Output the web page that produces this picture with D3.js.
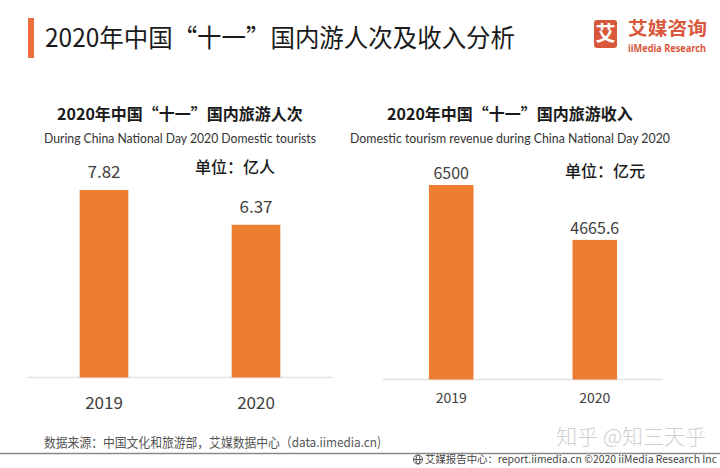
<!DOCTYPE html>
<html><head><meta charset="utf-8">
<script src="https://cdn.jsdelivr.net/npm/d3@7"></script>
<style>
html,body{margin:0;padding:0;background:#fff;}
svg{display:block;font-family:"Noto Sans CJK SC","Noto Sans",sans-serif;}
</style></head>
<body>
<script>
const years = ["2019", "2020"];
const tourists = [7.82, 6.37];
const revenue = [6500, 4665.6];
const touristLabels = ["7.82", "6.37"];
const revenueLabels = ["6500", "4665.6"];

const W = 720, H = 468;
const orange = "#ED7D31";
const svg = d3.select("body").append("svg").attr("width", W).attr("height", H);
svg.append("rect").attr("width", W).attr("height", H).attr("fill", "#fff");

// header
svg.append("rect").attr("x", 28).attr("y", 18).attr("width", 6).attr("height", 40).attr("fill", "#EE6B3B");
svg.append("text").attr("x", 45).attr("y", 47).attr("font-size", 25).attr("fill", "#1a1a1a")
  .attr("textLength", 470).attr("lengthAdjust", "spacingAndGlyphs")
  .text("2020年中国“十一”国内游人次及收入分析");

// logo
svg.append("rect").attr("x", 594).attr("y", 20).attr("width", 23).attr("height", 28).attr("rx", 3).attr("fill", "#D9573A");
svg.append("text").attr("x", 605.5).attr("y", 41).attr("text-anchor", "middle").attr("font-size", 20)
  .attr("font-weight", "bold").attr("fill", "#fff").text("艾");
svg.append("text").attr("x", 628).attr("y", 35).attr("font-size", 18).attr("font-weight", "bold")
  .attr("fill", "#D9573A").attr("textLength", 79).attr("lengthAdjust", "spacingAndGlyphs").text("艾媒咨询");
svg.append("text").attr("x", 628).attr("y", 52).attr("font-size", 10).attr("font-weight", "bold")
  .attr("fill", "#D9573A").attr("textLength", 78).attr("lengthAdjust", "spacingAndGlyphs")
  .attr("font-family", "Noto Sans").text("iiMedia Research");

function panel(cfg) {
  const g = svg.append("g");
  const x = d3.scaleBand().domain(years).range(cfg.xr).paddingInner(cfg.pi).paddingOuter(cfg.po);
  const y = d3.scaleLinear().domain([0, d3.max(cfg.values)]).range([cfg.base, cfg.top]);
  g.append("text").attr("x", cfg.cx).attr("y", 120).attr("text-anchor", "middle").attr("font-size", 16)
    .attr("font-weight", "bold").attr("fill", "#1a1a1a").text(cfg.title);
  g.append("text").attr("x", cfg.cx).attr("y", 143).attr("text-anchor", "middle").attr("font-size", 13)
    .attr("font-family", "Lato, 'Noto Sans'").attr("fill", "#333")
    .attr("textLength", cfg.subLen).attr("lengthAdjust", "spacingAndGlyphs").text(cfg.sub);
  g.append("text").attr("x", cfg.ux).attr("y", cfg.uy).attr("font-size", 16).attr("font-weight", 500)
    .attr("fill", "#1a1a1a").text(cfg.unit);
  // baseline axis
  const ax = g.append("g").attr("transform", `translate(0,${cfg.base})`)
    .call(d3.axisBottom(x).tickSize(0).tickPadding(cfg.tp));
  ax.select(".domain").attr("stroke", "#e3e3e3").attr("stroke-width", 1.5)
    .attr("d", `M${cfg.xr[0]},0H${cfg.xr[1]}`);
  ax.selectAll(".tick text").attr("font-size", cfg.tfs).attr("fill", "#404040")
    .attr("font-family", "'Noto Sans CJK SC'");
  g.selectAll("rect.bar").data(cfg.values).join("rect").attr("class", "bar")
    .attr("x", (d, i) => x(years[i])).attr("width", x.bandwidth())
    .attr("y", d => y(d)).attr("height", d => cfg.base - y(d)).attr("fill", orange);
  g.selectAll("text.val").data(cfg.values).join("text").attr("class", "val")
    .attr("x", (d, i) => x(years[i]) + x.bandwidth() / 2).attr("y", d => y(d) - cfg.off)
    .attr("text-anchor", "middle").attr("font-size", cfg.vfs).attr("fill", "#404040")
    .text((d, i) => cfg.labels[i]);
}

panel({values: tourists, labels: touristLabels, xr: [28, 332], pi: 0.68, po: 0.34, base: 377.5, top: 190,
  cx: 180, title: "2020年中国“十一”国内旅游人次", sub: "During China National Day 2020 Domestic tourists", subLen: 272,
  unit: "单位：亿人", ux: 195, uy: 173, tp: 19, tfs: 17, vfs: 17, off: 12});
panel({values: revenue, labels: revenueLabels, xr: [383, 663], pi: 0.69, po: 0.32, base: 379.5, top: 185,
  cx: 510, title: "2020年中国“十一”国内旅游收入", sub: "Domestic tourism revenue during China National Day 2020", subLen: 320,
  unit: "单位：亿元", ux: 565, uy: 177, tp: 14, tfs: 14, vfs: 16, off: 6});

// footer
svg.append("text").attr("x", 44).attr("y", 447).attr("font-size", 13).attr("fill", "#555")
  .attr("textLength", 337).attr("lengthAdjust", "spacingAndGlyphs")
  .text("数据来源：中国文化和旅游部，艾媒数据中心（data.iimedia.cn)");
svg.append("text").attr("x", 706).attr("y", 444).attr("text-anchor", "end").attr("font-size", 21)
  .attr("font-weight", 300).attr("fill", "#cfcfcf").text("知乎 @知三天乎");
svg.append("line").attr("x1", 0).attr("x2", W).attr("y1", 453.5).attr("y2", 453.5)
  .attr("stroke", "#8a8a8a").attr("stroke-width", 1.5);
// globe icon
const gi = svg.append("g").attr("transform", "translate(418,459.5)").attr("fill", "none").attr("stroke", "#444").attr("stroke-width", 0.9);
gi.append("circle").attr("r", 4.5);
gi.append("ellipse").attr("rx", 2).attr("ry", 4.5);
gi.append("line").attr("x1", -4.5).attr("x2", 4.5);
svg.append("text").attr("x", 717).attr("y", 463).attr("text-anchor", "end").attr("font-size", 10.5)
  .attr("fill", "#444").attr("textLength", 292).attr("lengthAdjust", "spacingAndGlyphs")
  .text("艾媒报告中心：report.iimedia.cn  ©2020  iiMedia Research  Inc");
</script>
</body></html>
